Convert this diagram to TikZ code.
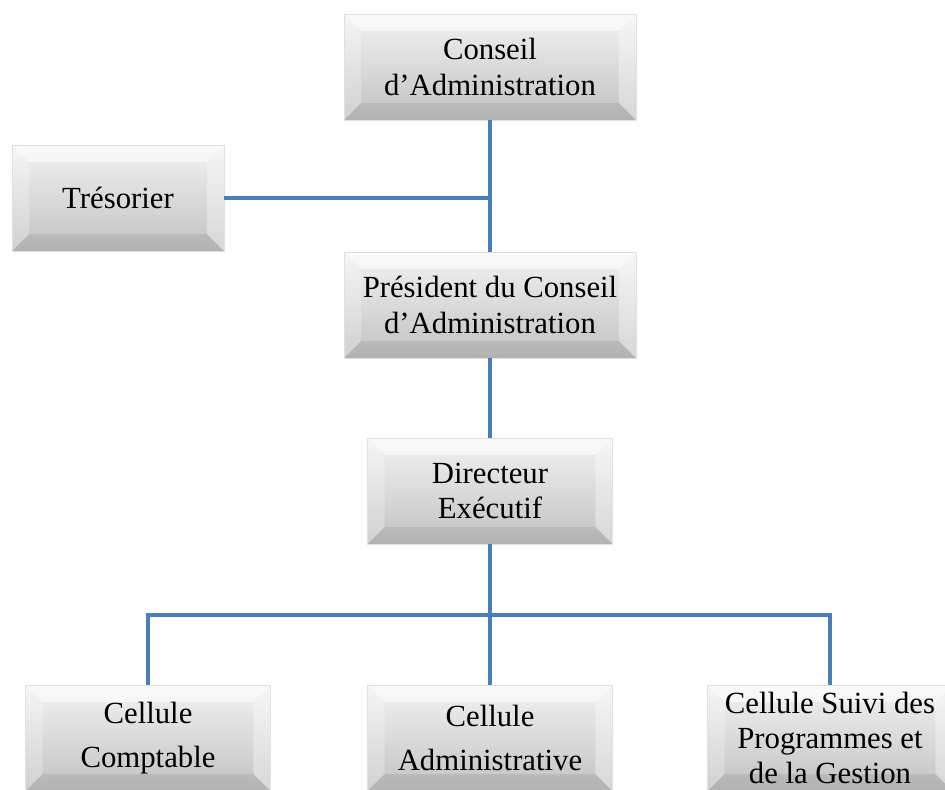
\documentclass[tikz,border=0pt]{standalone}
\usepackage{fontspec}
\setmainfont{Liberation Serif}
\usetikzlibrary{positioning}

\definecolor{linkblue}{RGB}{74,126,187}
\newcommand{\boxfont}{\fontsize{17.5pt}{20pt}\selectfont}
\newcommand{\bev}{0.34cm}

\tikzset{
  bevelbox/.style={inner sep=0pt, align=center, font=\boxfont,
    minimum height=2.12cm, draw=black!12,
    path picture={
      % face
      \fill[top color=black!5, bottom color=black!24]
        (path picture bounding box.south west) rectangle (path picture bounding box.north east);
      % top facet
      \fill[white, opacity=0.6] (path picture bounding box.north west)
        -- (path picture bounding box.north east)
        -- ([shift={(-\bev,-\bev)}]path picture bounding box.north east)
        -- ([shift={(\bev,-\bev)}]path picture bounding box.north west) -- cycle;
      % left facet
      \fill[white, opacity=0.25] (path picture bounding box.north west)
        -- ([shift={(\bev,-\bev)}]path picture bounding box.north west)
        -- ([shift={(\bev,\bev)}]path picture bounding box.south west)
        -- (path picture bounding box.south west) -- cycle;
      % right facet
      \fill[white, opacity=0.35] (path picture bounding box.north east)
        -- ([shift={(-\bev,-\bev)}]path picture bounding box.north east)
        -- ([shift={(-\bev,\bev)}]path picture bounding box.south east)
        -- (path picture bounding box.south east) -- cycle;
      % bottom facet
      \fill[black, opacity=0.08] (path picture bounding box.south west)
        -- ([shift={(\bev,\bev)}]path picture bounding box.south west)
        -- ([shift={(-\bev,\bev)}]path picture bounding box.south east)
        -- (path picture bounding box.south east) -- cycle;
    }},
  widebox/.style={bevelbox, minimum width=5.84cm},
  midbox/.style={bevelbox, minimum width=4.9cm},
  smallbox/.style={bevelbox, minimum width=4.24cm},
  link/.style={draw=linkblue, line width=2.8pt}
}

\begin{document}
\begin{tikzpicture}[x=0.02cm, y=-0.02cm]

  \clip (0,0) rectangle (945,789);
  \fill[white] (0,0) rectangle (945,789);

  % top of the chart
  \node[widebox] (conseil) at (490,67) {Conseil\\d’Administration};
  \node[smallbox] (tresorier) at (118,198) {Trésorier};
  \node[widebox] (president) at (490,305) {Président du Conseil\\d’Administration};
  \node[midbox] (directeur) at (490,491) {Directeur\\Exécutif};

  % cells
  \node[midbox] (comptable) at (148,738) {Cellule\\[5pt]Comptable};
  \node[midbox] (administrative) at (490,738) {Cellule\\[5pt]Administrative};
  \node[midbox] (suivi) at (830,738) {Cellule Suivi des\\Programmes et\\de la Gestion};

  % links
  \draw[link] (conseil.south) -- (president.north);
  \draw[link] (tresorier.east) -- (tresorier.east -| conseil.south);
  \draw[link] (president.south) -- (directeur.north);
  \coordinate (bus) at (490,615);
  \draw[link] (directeur.south) -- (bus);
  \draw[link] (comptable.north) |- (bus) -| (suivi.north);
  \draw[link] (bus) -- (administrative.north);

\end{tikzpicture}
\end{document}
